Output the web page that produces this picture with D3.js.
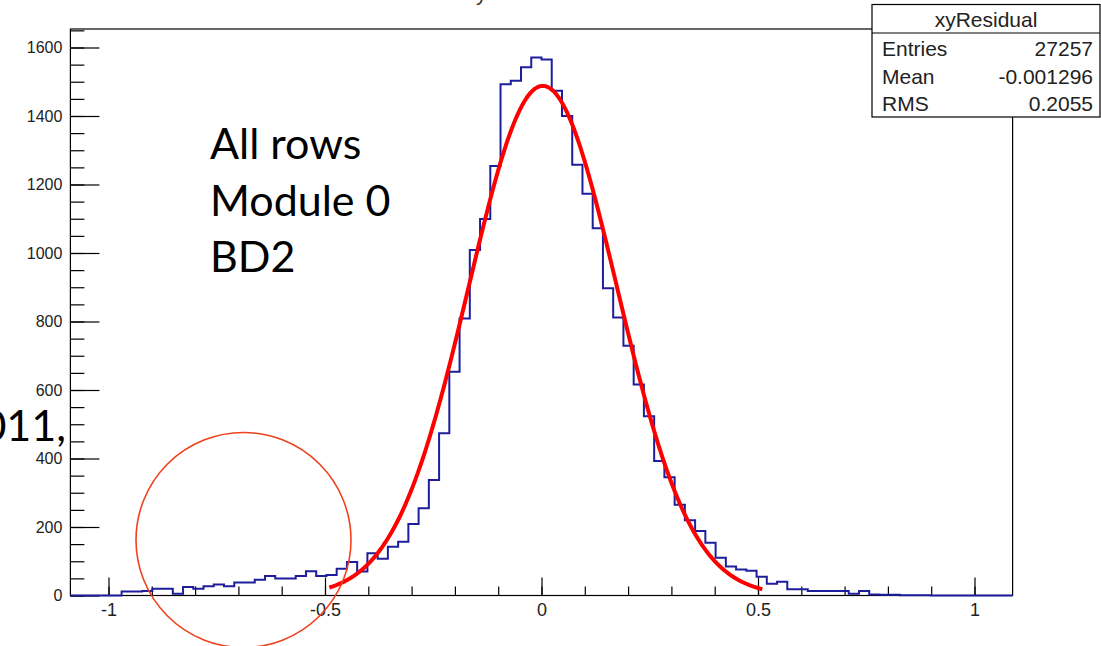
<!DOCTYPE html>
<html>
<head>
<meta charset="utf-8">
<script src="https://cdn.jsdelivr.net/npm/d3@7"></script>
<style>
  body { margin: 0; background: #fff; }
  svg { display: block; }
</style>
</head>
<body>
<div id="chart"></div>
<script>
// histogram range and bin contents
const xDomain = [-1.088, 1.088];
const yDomain = [0, 1654];
const counts = [
  0, 0, 0, 0, 0, 12, 12, 13, 20, 20, 5, 25, 20, 27, 32, 27, 38, 38, 46, 57,
  50, 50, 57, 71, 57, 60, 78, 98, 70, 123, 107, 142, 157, 209, 255, 337, 474, 653, 809, 1009,
  1099, 1254, 1493, 1503, 1542, 1571,
  1565, 1474, 1400, 1258, 1173, 1072, 897, 812, 729, 616, 523, 393, 345, 265, 220, 188,
  154, 110, 85, 76, 72, 55, 34, 40, 18, 18, 13, 13, 13, 13, 5, 13, 3, 2, 2, 1,
  1, 1, 0, 0, 0, 0, 0, 0, 0, 0
];

// gaussian fit drawn over the histogram
const fitConstant = 1488;
const fitMean = 0.003;
const fitSigma = 0.171;
const fitRange = [-0.49, 0.51];

const xMajorTicks = [-1, -0.5, 0, 0.5, 1];
const xTickLabels = ['-1', '-0.5', '0', '0.5', '1'];
const yMajorTicks = [0, 200, 400, 600, 800, 1000, 1200, 1400, 1600];

const statsTitle = 'xyResidual';
const statsRows = [['Entries', '27257'], ['Mean', '-0.001296'], ['RMS', '0.2055']];
const noteLines = ['All rows', 'Module 0', 'BD2'];

const width = 1101, height = 646;
const frame = {left: 70.4, right: 1012.6, top: 29, bottom: 595.5};

const svg = d3.select('#chart')
  .append('svg')
  .attr('width', width)
  .attr('height', height);

const x = d3.scaleLinear().domain(xDomain).range([frame.left, frame.right]);
const y = d3.scaleLinear().domain(yDomain).range([frame.bottom, frame.top]);

// cut-off title at the very top
svg.append('text')
  .attr('x', 465)
  .attr('y', 0)
  .text(statsTitle)
  .style('font-family', 'Liberation Sans, Arial, sans-serif')
  .style('font-size', '22px')
  .attr('fill', '#333');

// frame
svg.append('rect')
  .attr('x', frame.left)
  .attr('y', frame.top)
  .attr('width', frame.right - frame.left)
  .attr('height', frame.bottom - frame.top)
  .attr('fill', 'none')
  .attr('stroke', 'black')
  .attr('stroke-width', 1.2);

// minor ticks
const xMinor = d3.range(-10, 11).map(d => d / 10);
const yMinor = d3.range(0, 1651, 50);

svg.append('g')
  .attr('transform', `translate(0, ${frame.bottom})`)
  .call(d3.axisBottom(x).tickValues(xMinor).tickSize(-9).tickSizeOuter(0).tickFormat(''))
  .call(g => g.select('.domain').remove());

svg.append('g')
  .attr('transform', `translate(${frame.left}, 0)`)
  .call(d3.axisLeft(y).tickValues(yMinor).tickSize(-14).tickSizeOuter(0).tickFormat(''))
  .call(g => g.select('.domain').remove());

// major ticks with labels
let xAxis = svg.append('g')
  .attr('transform', `translate(0, ${frame.bottom})`)
  .call(d3.axisBottom(x).tickValues(xMajorTicks).tickSize(-18).tickSizeOuter(0)
    .tickPadding(8).tickFormat((d, i) => xTickLabels[i]));
xAxis.select('.domain').remove();

let yAxis = svg.append('g')
  .attr('transform', `translate(${frame.left}, 0)`)
  .call(d3.axisLeft(y).tickValues(yMajorTicks).tickSize(-29).tickSizeOuter(0)
    .tickPadding(8).tickFormat(d => String(d)));
yAxis.select('.domain').remove();

svg.selectAll('.tick line').attr('stroke', 'black').attr('stroke-width', 1.2);
xAxis.selectAll('.tick text')
  .style('font-family', 'Liberation Sans, Arial, sans-serif')
  .style('font-size', '18px')
  .attr('fill', '#222');
yAxis.selectAll('.tick text')
  .style('font-family', 'Liberation Sans, Arial, sans-serif')
  .style('font-size', '16px')
  .attr('fill', '#222');

// histogram outline
const binWidth = (xDomain[1] - xDomain[0]) / counts.length;
const steps = [];
counts.forEach((c, i) => {
  const lo = xDomain[0] + i * binWidth;
  steps.push([lo, c], [lo + binWidth, c]);
});

const histLine = d3.line()
  .x(d => x(d[0]))
  .y(d => y(d[1]));

svg.append('path')
  .datum(steps)
  .attr('d', histLine)
  .attr('fill', 'none')
  .attr('stroke', '#1e1e9c')
  .attr('stroke-width', 2);

// fit function
const fitPoints = d3.range(fitRange[0], fitRange[1] + 1e-9, 0.005).map(v =>
  [v, fitConstant * Math.exp(-0.5 * Math.pow((v - fitMean) / fitSigma, 2))]);

svg.append('path')
  .datum(fitPoints)
  .attr('d', histLine)
  .attr('fill', 'none')
  .attr('stroke', '#ff0000')
  .attr('stroke-width', 4)
  .attr('stroke-linejoin', 'round');

// stats box
const box = svg.append('g');
box.append('rect')
  .attr('x', 872)
  .attr('y', 4.5)
  .attr('width', 228)
  .attr('height', 112.5)
  .attr('fill', 'white')
  .attr('stroke', 'black')
  .attr('stroke-width', 1.2);
box.append('line')
  .attr('x1', 872).attr('x2', 1100)
  .attr('y1', 33).attr('y2', 33)
  .attr('stroke', 'black')
  .attr('stroke-width', 1.2);
box.append('text')
  .attr('x', 986)
  .attr('y', 27)
  .attr('text-anchor', 'middle')
  .text(statsTitle);
statsRows.forEach((row, i) => {
  box.append('text')
    .attr('x', 882)
    .attr('y', 56 + i * 27.5)
    .text(row[0]);
  box.append('text')
    .attr('x', 1093)
    .attr('y', 56 + i * 27.5)
    .attr('text-anchor', 'end')
    .text(row[1]);
});
box.selectAll('text')
  .style('font-family', 'Liberation Sans, Arial, sans-serif')
  .style('font-size', '21px')
  .attr('fill', '#222');

// slide annotations
noteLines.forEach((t, i) => {
  svg.append('text')
    .attr('x', 210)
    .attr('y', 159 + i * 56.5)
    .text(t)
    .style('font-family', 'Lato, sans-serif')
    .style('font-size', '43px')
    .attr('fill', 'black');
});

svg.append('text')
  .attr('x', 66)
  .attr('y', 441)
  .attr('text-anchor', 'end')
  .text('2011,')
  .style('font-family', 'Lato, sans-serif')
  .style('font-size', '43px')
  .attr('fill', 'black');

svg.append('circle')
  .attr('cx', 243.5)
  .attr('cy', 540)
  .attr('r', 107.5)
  .attr('fill', 'none')
  .attr('stroke', '#f0401e')
  .attr('stroke-width', 1.6);
</script>
</body>
</html>
